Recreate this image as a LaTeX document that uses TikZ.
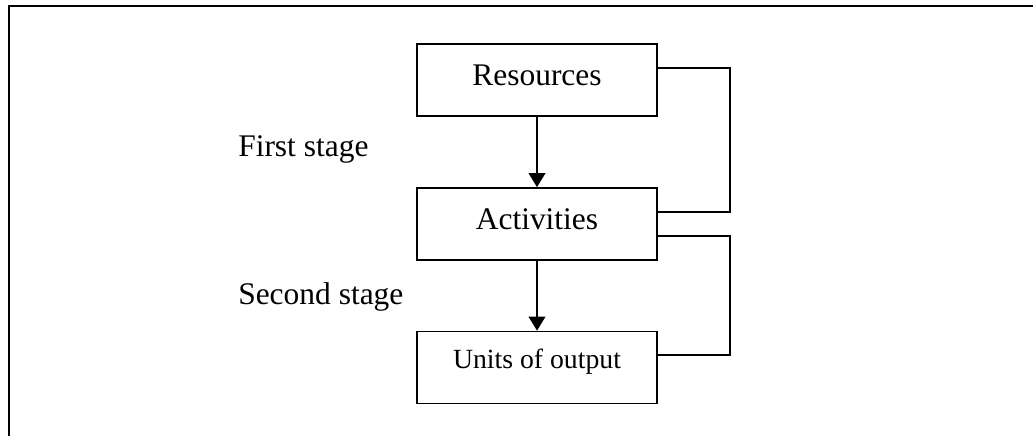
\documentclass[tikz,border=0pt]{standalone}
\usepackage{fontspec}
\setmainfont{Liberation Serif}
\usetikzlibrary{arrows.meta}
\begin{document}
\begin{tikzpicture}[x=0.75pt,y=-0.75pt,
  stagebox/.style={draw,line width=1.3pt,minimum width=180pt,minimum height=54pt,
    inner sep=0pt,font=\fontsize{23.6pt}{28pt}\selectfont,text height=15.6pt,text depth=8.1pt},
  smallbox/.style={stagebox,font=\fontsize{20.8pt}{25pt}\selectfont,text height=13.8pt,text depth=12.3pt},
  stagelabel/.style={anchor=base west,inner sep=0pt,font=\fontsize{23.6pt}{28pt}\selectfont},
  flow/.style={line width=1.3pt,-{Triangle[length=10.5pt,width=12.5pt]}},
  loop/.style={line width=1.3pt},
  frame/.style={line width=1.6pt,line cap=rect}]
  \useasboundingbox (0,0) rectangle (1033,436);
  % open frame: top and left edges
  \coordinate (fbl) at (9,436);
  \coordinate (ftl) at (9,6);
  \coordinate (ftr) at (1033,6);
  \draw[frame] (fbl) -- (ftl) -- (ftr);
  % boxes
  \node[stagebox] (res) at (537,80) {Resources};
  \node[stagebox] (act) at (537,224) {Activities};
  \node[smallbox] (out) at (537,367.5) {Units of output};
  % stage labels
  \node[stagelabel] (first) at (238,156) {First stage};
  \node[stagelabel] (second) at (238,304) {Second stage};
  % downward flow
  \draw[flow] (res) -- (act);
  \draw[flow] (act) -- (out);
  % return loops on the right
  \draw[loop] ([yshift=9pt]res.east) -- ++(72,0) |- ([yshift=9pt]act.east);
  \draw[loop] ([yshift=-9pt]act.east) -- ++(72,0) |- ([yshift=9.4pt]out.east);
\end{tikzpicture}
\end{document}
